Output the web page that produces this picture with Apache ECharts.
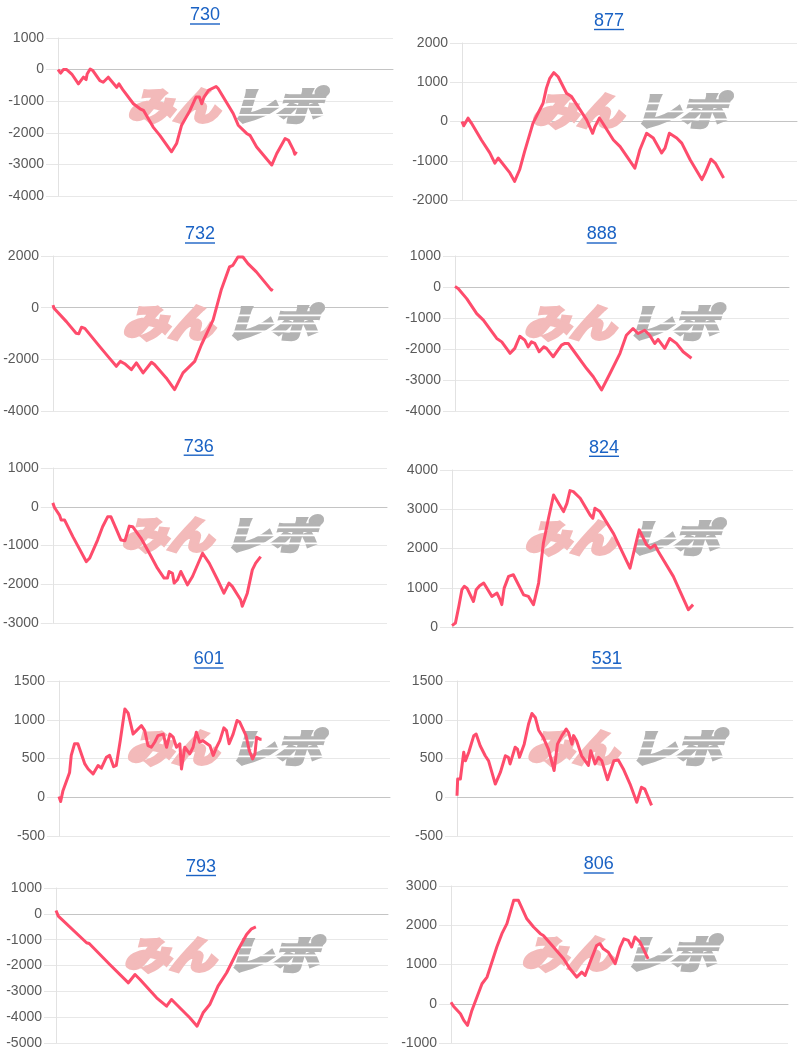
<!DOCTYPE html>
<html><head><meta charset="utf-8">
<script src="https://cdn.jsdelivr.net/npm/echarts@6/dist/echarts.min.js"></script>
<style>html,body{margin:0;padding:0;background:#fff}#c{width:800px;height:1057px}</style>
</head><body><div id="c"></div>
<script>
// ---- data (x = position along the session, 0..100 of axis; y = difference) ----
const titles = ['730','877','732','888','736','824','601','531','793','806'];
const d730 = [[0,0],[0.8,-110],[1.6,0],[2.6,0],[4.1,-140],[6.1,-450],[6.6,-500],[7.6,-240],[8.4,-315],[8.7,-140],[9.6,20],[10.4,-30],[12.5,-350],[13.5,-400],[15,-240],[15.5,-290],[17.5,-560],[18.2,-450],[19.5,-660],[22.5,-1080],[24.5,-1240],[25.5,-1290],[28.4,-1820],[30.4,-2080],[33.9,-2600],[35.4,-2340],[36.9,-1760],[39.4,-1290],[41.2,-870],[42.2,-870],[42.9,-1080],[43.6,-870],[44.9,-660],[47.2,-535],[47.8,-600],[52.3,-1390],[53.8,-1760],[56.3,-2020],[57.3,-2080],[59.3,-2450],[63.8,-3020],[65.3,-2655],[67.8,-2180],[68.8,-2235],[70.3,-2550],[70.7,-2680],[71.2,-2600]];
const d877 = [[0,0],[0.5,-110],[1.8,85],[2.8,-40],[5.8,-470],[8.3,-800],[9.8,-1060],[10.8,-930],[11.3,-975],[14.3,-1310],[15.7,-1525],[17.2,-1230],[18.7,-760],[21.2,-40],[24.2,466],[25.2,850],[26.2,1100],[27.4,1245],[28.7,1140],[31.2,720],[32.7,635],[37.2,40],[39,-300],[39.7,-130],[41,85],[41.7,0],[45.2,-470],[47.2,-640],[49.2,-890],[51.6,-1190],[53.1,-720],[55.1,-300],[57.1,-420],[59.6,-800],[60.6,-680],[61.9,-300],[64.1,-420],[65.6,-550],[68.1,-975],[71.6,-1480],[72.6,-1310],[74.3,-960],[75.6,-1060],[78.1,-1440]];
const d732 = [[0,100],[0.3,-25],[4,-540],[6.9,-990],[7.7,-1010],[8.5,-760],[9.5,-800],[13.9,-1500],[16.4,-1885],[18.9,-2270],[20.1,-2080],[21.4,-2170],[23.4,-2400],[24.9,-2140],[25.9,-2330],[26.9,-2525],[29.4,-2115],[30.3,-2200],[33.8,-2720],[36.3,-3170],[38.8,-2525],[42.3,-2080],[44.3,-1435],[47.8,-475],[50.2,680],[52.7,1580],[53.7,1640],[55.2,1960],[56.7,1960],[58.2,1705],[60.7,1385],[65.2,680],[65.5,740]];
const d888 = [[0,20],[1,-55],[3.5,-375],[6.5,-860],[8.5,-1070],[12.5,-1660],[14,-1770],[16.5,-2140],[17.9,-1980],[19.4,-1590],[20.9,-1715],[21.9,-1930],[22.9,-1770],[23.9,-1820],[25.2,-2090],[26.6,-1930],[27.4,-1980],[29.4,-2250],[31.9,-1875],[32.9,-1820],[33.9,-1820],[35.4,-2040],[39.4,-2630],[41.4,-2895],[43.9,-3320],[46.4,-2790],[49.4,-2140],[51.3,-1555],[53.3,-1340],[54.8,-1500],[56.8,-1395],[58.3,-1555],[59.8,-1820],[60.8,-1690],[62.8,-1980],[64.3,-1660],[66.3,-1820],[68.3,-2090],[70.8,-2300]];
const d736 = [[0,100],[0.5,-20],[2,-215],[2.5,-340],[3.5,-340],[6,-770],[10,-1415],[11,-1330],[13.4,-860],[14.9,-515],[16.4,-260],[17.4,-260],[18.9,-560],[20.4,-860],[21.6,-875],[22.9,-500],[23.9,-515],[26.4,-815],[28.9,-1200],[31.3,-1585],[33.3,-1840],[34.3,-1840],[34.8,-1670],[35.8,-1715],[36.3,-1970],[37.3,-1885],[38.3,-1670],[40.3,-2015],[41.8,-1800],[44.8,-1200],[46.8,-1455],[49.3,-1885],[51.2,-2230],[52.7,-1970],[53.7,-2055],[56.2,-2400],[56.7,-2570],[58.2,-2230],[59.7,-1630],[60.7,-1455],[62.2,-1285]];
const d824 = [[0,35],[1,100],[2,525],[2.9,950],[3.6,1035],[4.4,990],[6.3,650],[7.1,950],[8.1,1050],[9.3,1120],[11.7,780],[13.2,865],[14.1,695],[14.6,570],[15.3,990],[16.6,1290],[18,1330],[21,820],[22.4,780],[23.9,570],[25.4,1120],[26.8,2135],[28.3,2770],[29.8,3365],[32.7,2940],[33.7,3150],[34.6,3475],[35.6,3450],[37.6,3280],[40.5,2855],[41.3,2770],[41.9,3025],[43.4,2940],[47.3,2390],[52.2,1500],[53.7,2050],[54.9,2475],[57.1,2090],[58.2,2010],[59.5,2090],[60.5,1925],[64.9,1290],[69.3,440],[69.8,485],[70.7,570]];
const d601 = [[0,10],[0.5,-55],[1.2,85],[3.2,320],[3.7,540],[4.7,690],[5.7,690],[7.8,430],[8.8,365],[10.3,300],[11.8,410],[12.8,375],[14.3,515],[15.3,540],[16.5,395],[17.3,410],[18.5,730],[19.9,1140],[20.9,1085],[22.4,815],[23.4,860],[24.9,925],[25.9,860],[26.9,665],[27.9,645],[28.9,710],[29.9,795],[31.5,815],[32.5,645],[33.5,815],[34.5,775],[35.5,645],[36.5,690],[37,365],[38,645],[39.5,560],[40.5,645],[41.5,840],[42.5,710],[43.5,730],[45.6,665],[46.6,540],[47.6,645],[48.6,730],[49.8,895],[50.6,860],[51.4,690],[52.6,815],[53.8,990],[54.6,970],[56.5,795],[57.5,600],[58.5,495],[59.2,560],[59.7,775],[60.2,795],[60.7,750],[61.2,750]];
const d531 = [[0,20],[0.2,235],[1,235],[2,580],[2.5,470],[3.5,580],[5,795],[5.7,815],[6.9,665],[8.4,535],[9.4,470],[11.4,170],[12.9,320],[14.4,535],[15.3,515],[15.8,430],[17.3,645],[18,620],[18.6,515],[20,685],[21.3,945],[22.3,1080],[23.3,1030],[24.3,865],[25.7,770],[27.2,620],[28.9,345],[29.9,685],[31.2,795],[32.5,880],[33.2,835],[34.2,685],[34.7,795],[35.6,730],[37.1,535],[39.1,410],[39.8,600],[41.1,430],[42.1,515],[43.1,470],[44.8,225],[45.5,320],[46.7,470],[48,480],[49.5,365],[51.5,170],[53.5,-65],[54.9,130],[55.9,105],[57.9,-105]];
const d793 = [[0,130],[0.7,-90],[9.2,-1120],[10,-1150],[16.2,-1960],[21.8,-2670],[22.3,-2735],[23.8,-2350],[25.3,-2540],[30.3,-3250],[33.3,-3575],[33.8,-3600],[34.8,-3315],[36.3,-3510],[40.3,-4025],[42.5,-4350],[44.3,-3830],[46.3,-3510],[48.8,-2800],[51.4,-2280],[54.9,-1380],[57.4,-800],[58.9,-580],[60.2,-505]];
const d806 = [[0,40],[0.8,-70],[2.8,-255],[3.8,-425],[4.9,-550],[6.2,-170],[9.2,510],[10.7,680],[13.6,1445],[15.1,1785],[16.6,2040],[18.6,2635],[20,2635],[22.5,2165],[24.5,1955],[26.5,1785],[27.4,1740],[30.4,1445],[33.4,1145],[35.3,890],[37.3,680],[38.8,805],[39.8,720],[41.1,1020],[43.2,1485],[44.2,1530],[45.2,1400],[46.7,1315],[48.7,1020],[50.2,1445],[51.3,1655],[52.6,1615],[53.6,1445],[54.6,1700],[56.1,1570],[58.5,1145]];
const seriesData = [d730,d877,d732,d888,d736,d824,d601,d531,d793,d806];
const yMin  = [-4000,-2000,-4000,-4000,-3000,0,-500,-500,-5000,-1000];
const yMax  = [1000,2000,2000,1000,1000,4000,1500,1500,1000,3000];
const yStep = [1000,1000,2000,1000,1000,1000,500,500,1000,1000];

// ---- layout (pixels) ----
const gridBox = [[58,38,335,158],[462,43,335,157],[53,256,335,155],[455,256,334,155],[52,468,335,155],[452,470,341,157],[59,681,331,155],[457,681,336,155],[56,888,332,155],[451,886,337,157]];
const titlePos = [[205,15.5],[609,21],[200,234.5],[601.7,234.5],[198.7,446.7],[604,447.8],[208.7,659.5],[606.7,659.5],[201,867],[598.7,864.5]];

const LINE = '#fe4c6c', TITLE = '#1a62c4', LABEL = '#5a5a5a';
const titleFont = '18px "Liberation Sans", Arial, sans-serif';
const ctx = document.createElement('canvas').getContext('2d');
ctx.font = titleFont;

const grid = [], xAxis = [], yAxis = [], series = [], graphic = [];
seriesData.forEach((d, i) => {
  const [l, t, w, h] = gridBox[i];
  grid.push({ left: l, top: t, width: w, height: h });
  xAxis.push({ type: 'value', gridIndex: i, min: 0, max: 100,
    axisLine: { show: true, onZero: true, lineStyle: { color: '#c4c4c4', width: 1 } },
    axisTick: { show: false }, axisLabel: { show: false }, splitLine: { show: false } });
  yAxis.push({ type: 'value', gridIndex: i, min: yMin[i], max: yMax[i], interval: yStep[i],
    axisLine: { show: true, lineStyle: { color: '#e2e2e2' } },
    axisTick: { show: true, length: 12, lineStyle: { color: '#e6e6e6' } },
    axisLabel: { color: LABEL, fontSize: 14, margin: 14, fontFamily: '"Liberation Sans", Arial, sans-serif', formatter: v => String(v) },
    splitLine: { show: true, lineStyle: { color: '#e8e8e8' } } });
  series.push({ type: 'line', xAxisIndex: i, yAxisIndex: i, data: d, showSymbol: false, symbol: 'none',
    lineStyle: { color: LINE, width: 3, join: 'round' }, z: 5, animation: false });

  // title (link style)
  const [tx, ty] = titlePos[i];
  const tw = ctx.measureText(titles[i]).width;
  graphic.push({ type: 'text', x: tx, y: ty, z: 10,
    style: { text: titles[i], fill: TITLE, font: titleFont, align: 'center', verticalAlign: 'middle' } });
  graphic.push({ type: 'line', z: 10, shape: { x1: tx - tw / 2, y1: ty + 8.5, x2: tx + tw / 2, y2: ty + 8.5 },
    style: { stroke: TITLE, lineWidth: 1.4 } });

  // watermark
  const cx = l + w / 2, cy = t + h / 2 - 11;
  const wmFont = 'italic bold 38px "Noto Sans CJK JP", sans-serif';
  graphic.push({ type: 'text', x: cx - 7, y: cy, z: 1, silent: true, scaleX: 1.2,
    style: { text: 'みん', fill: '#f3baba', stroke: '#f3baba', lineWidth: 4, font: wmFont, align: 'right', verticalAlign: 'middle' } });
  graphic.push({ type: 'text', x: cx + 5, y: cy, z: 1, silent: true, scaleX: 1.2,
    style: { text: 'レポ', fill: '#b3b3b3', stroke: '#b3b3b3', lineWidth: 4, font: wmFont, align: 'left', verticalAlign: 'middle' } });
  [-8, 0, 8].forEach(o => {
    graphic.push({ type: 'rect', z: 2, silent: true, shape: { x: cx + 2, y: cy + o, width: 100, height: 1.8 }, style: { fill: '#ffffff' } });
  });
});

const chart = echarts.init(document.getElementById('c'), null, { renderer: 'canvas' });
chart.setOption({ animation: false, grid, xAxis, yAxis, series, graphic });
</script></body></html>
